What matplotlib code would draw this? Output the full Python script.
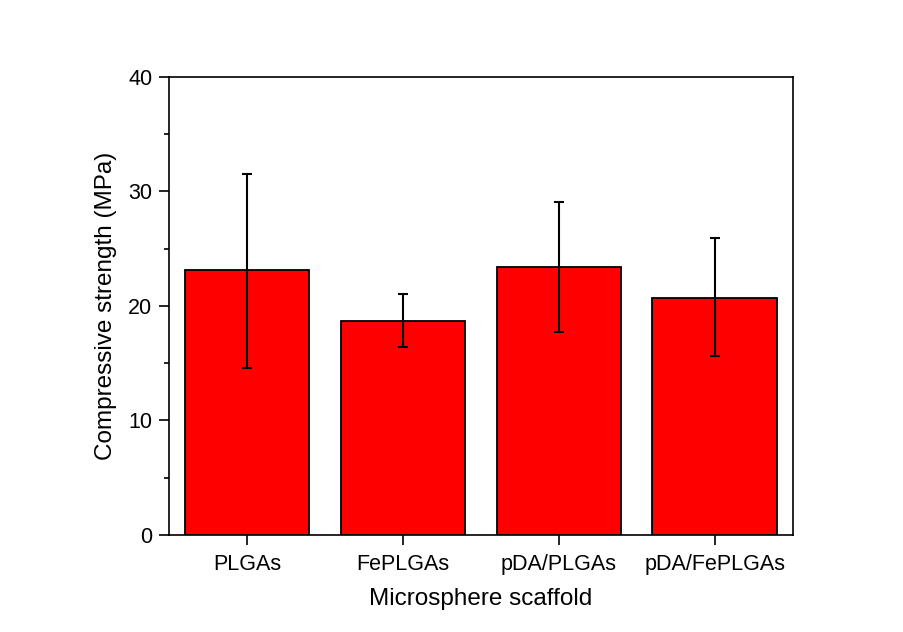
import matplotlib
matplotlib.use('Agg')
import matplotlib.pyplot as plt
from matplotlib.ticker import MultipleLocator

plt.rcParams['font.family'] = ['Liberation Sans', 'DejaVu Sans']

# values
groups = ['PLGAs', 'FePLGAs', 'pDA/PLGAs', 'pDA/FePLGAs']
strength = [23.1, 18.7, 23.4, 20.7]
err_low = [14.6, 16.4, 17.7, 15.6]
err_high = [31.5, 21.0, 29.1, 25.9]

x = list(range(1, len(groups) + 1))
yerr = [[s - lo for s, lo in zip(strength, err_low)],
        [hi - s for s, hi in zip(strength, err_high)]]

fig = plt.figure(figsize=(9.04, 6.32), dpi=100)
ax = fig.add_axes([0.187, 0.1535, 0.69, 0.725])

ax.bar(x, strength, width=0.8, color='#ff0000', edgecolor='black', linewidth=1.3)
ax.errorbar(x, strength, yerr=yerr, fmt='none', ecolor='black',
            elinewidth=1.5, capsize=3.8, capthick=1.5)

ax.set_xlim(0.5, 4.5)
ax.set_ylim(0, 40)
ax.set_xticks(x)
ax.set_xticklabels(groups)
ax.yaxis.set_major_locator(MultipleLocator(10))
ax.yaxis.set_minor_locator(MultipleLocator(5))

ax.tick_params(axis='both', which='major', direction='out', length=7, width=1.2,
               labelsize=15.5)
ax.tick_params(axis='x', which='major', pad=7)
ax.tick_params(axis='y', which='major', pad=5)
ax.tick_params(axis='y', which='minor', direction='out', length=3.6, width=1.2)
ax.tick_params(top=False, right=False)

for sp in ax.spines.values():
    sp.set_linewidth(1.2)

ax.set_xlabel('Microsphere scaffold', fontsize=17.5, labelpad=9)
ax.set_ylabel('Compressive strength (MPa)', fontsize=17.5, labelpad=8)

fig.savefig('out.png', dpi=100)
